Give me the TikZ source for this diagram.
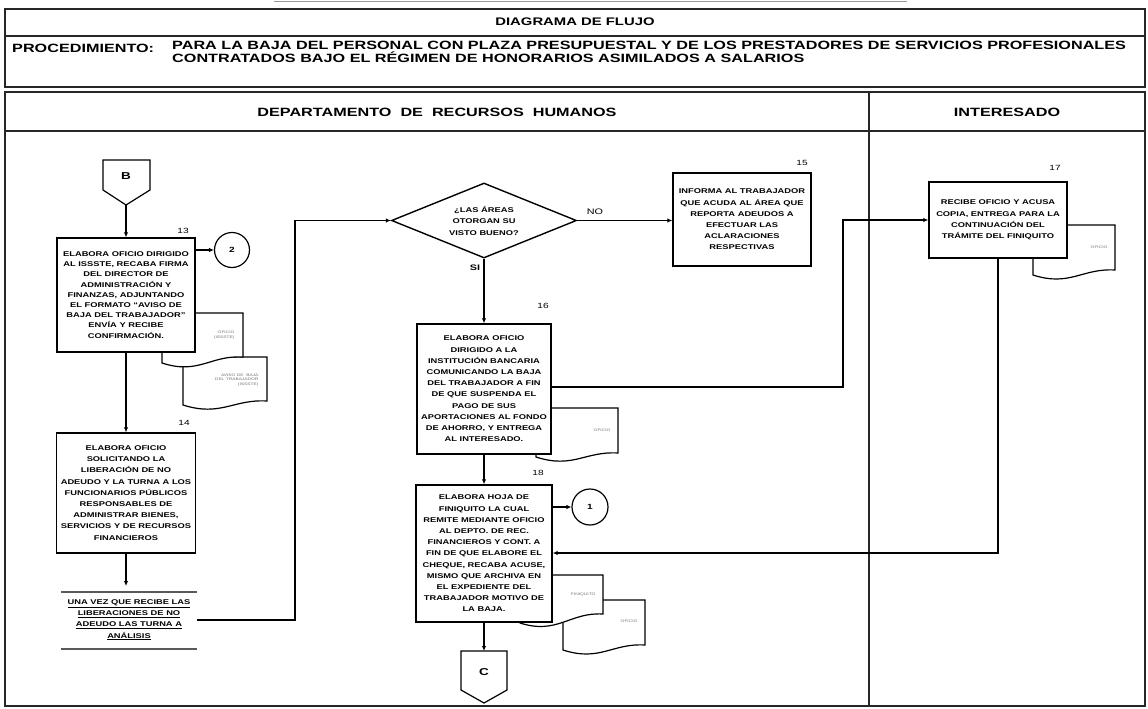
\documentclass[tikz,border=0pt]{standalone}
\usepackage{fontspec}
\newfontfamily\hf{Liberation Sans}[FakeStretch=1.35]
\usetikzlibrary{shapes.geometric,arrows.meta}
\newcommand\docshape[5]{\draw[docline] (#1,#2) -- (#3,#2) -- (#3,#4) .. controls ({#1+0.6*(#3-#1)},{#4-2}) and ({#1+0.45*(#3-#1)},{#5+12}) .. (#1,#5) -- cycle;}
\begin{document}
\begin{tikzpicture}[x=1pt,y=-1pt,
  frame/.style={line width=1.8pt, black!85},
  thin frame/.style={line width=1.1pt, black!85},
  proc/.style={draw, line width=1.4pt, fill=white, align=center, inner sep=0pt,
     font=\hf\bfseries\fontsize{6.9}{11.2}\selectfont},
  conn/.style={line width=1.2pt, -{Latex[length=5pt,width=4.5pt]}},
  docline/.style={line width=1.2pt, fill=white},
  doctext/.style={font=\hf\fontsize{3.6}{4.6}\selectfont, text=black!55, align=right},
  num/.style={font=\hf\fontsize{7.5}{8}\selectfont},
  circ/.style={draw, circle, line width=1.2pt, inner sep=0pt, font=\hf\bfseries\fontsize{7.5}{8}\selectfont},
  head/.style={font=\hf\bfseries\fontsize{11}{13}\selectfont},
  bighead/.style={font=\hf\bfseries\fontsize{12}{13}\selectfont},
  lbl/.style={font=\hf\fontsize{8}{9}\selectfont}
]
\useasboundingbox (0,0) rectangle (1148,709);
% top remnant
\draw[line width=1pt, black!40] (274,2) -- (907,2);
% header
\draw[frame] (5,9) rectangle (1145,87);
\draw[frame] (5,36) -- (1145,36);
\node[head] (title) at (575,22) {DIAGRAMA DE FLUJO};
\node[bighead, anchor=west, inner sep=0pt] (proclbl) at (12,48) {PROCEDIMIENTO:};
\node[bighead, anchor=north west, align=left, inner sep=0pt] (proctxt) at (172,41)
  {PARA LA BAJA DEL PERSONAL CON PLAZA PRESUPUESTAL Y DE LOS PRESTADORES DE SERVICIOS PROFESIONALES\\
   CONTRATADOS BAJO EL RÉGIMEN DE HONORARIOS ASIMILADOS A SALARIOS};
% lanes
\draw[frame] (5,92) rectangle (1145,706);
\draw[frame] (5,131) -- (1145,131);
\draw[thin frame] (869,92) -- (869,706);
\node[bighead] (lane1) at (437,112) {DEPARTAMENTO \ DE \ RECURSOS \ HUMANOS};
\node[bighead] (lane2) at (1007,112) {INTERESADO};

% documents (behind boxes)
\docshape{183}{357}{267}{401}{405}
\node[doctext, anchor=east] (d13b) at (262,380) {AVISO DE \ BAJA\\DEL TRABAJADOR\\(ISSSTE)};
\docshape{162}{313}{243}{357}{363}
\node[doctext, anchor=east] (d13a) at (238,335) {OFICIO\\(ISSSTE)};
\docshape{536}{408}{618}{453}{457}
\node[doctext, anchor=east] (d16) at (614,430) {OFICIO};
\docshape{1033}{225}{1115}{270}{275}
\node[doctext, anchor=east] (d17) at (1111,247) {OFICIO};
\docshape{563}{600}{645}{645}{650}
\node[doctext, anchor=east] (d18b) at (641,621) {OFICIO};
\docshape{520}{575}{603}{614}{623}
\node[doctext, anchor=east] (d18a) at (599,595) {FINIQUITO};

% off-page connector B
\draw[docline] (103,160) -- (150,160) -- (150,190) -- (126,205) -- (103,190) -- cycle;
\node[font=\hf\bfseries\fontsize{10}{10}\selectfont] (B) at (126,176) {B};
\coordinate (Bp) at (126,205);

% boxes
\node[proc, minimum width=138pt, minimum height=114pt, font=\hf\bfseries\fontsize{6.9}{10.2}\selectfont] (b13) at (126,295)
 {ELABORA OFICIO DIRIGIDO\\AL ISSSTE, RECABA FIRMA\\DEL DIRECTOR DE\\ADMINISTRACIÓN Y\\FINANZAS, ADJUNTANDO\\EL FORMATO “AVISO DE\\BAJA DEL TRABAJADOR”\\ENVÍA Y RECIBE\\CONFIRMACIÓN.};
\node[num] (n13) at (183,231) {13};
\node[circ, minimum size=35pt] (c2) at (232,250) {2};

\node[proc, minimum width=139pt, minimum height=120pt] (b14) at (126,493)
 {ELABORA OFICIO\\SOLICITANDO LA\\LIBERACIÓN DE NO\\ADEUDO Y LA TURNA A LOS\\FUNCIONARIOS PÚBLICOS\\RESPONSABLES DE\\ADMINISTRAR BIENES,\\SERVICIOS Y DE RECURSOS\\FINANCIEROS};
\node[num] (n14) at (184,423) {14};

% annotation
\draw[line width=1.8pt, black!65] (61,592) -- (197,592);
\draw[line width=1.8pt, black!65] (61,649) -- (197,649);
\node[align=center, font=\hf\bfseries\fontsize{6.9}{11.2}\selectfont] (ann) at (129,620)
 {\underline{UNA VEZ QUE RECIBE LAS}\\\underline{LIBERACIONES DE NO}\\\underline{ADEUDO LAS TURNA A}\\\underline{ANÁLISIS}};
\coordinate (annT) at (126,586);
\coordinate (annR) at (197,620);
\coordinate (j1) at (295,620);

% decision
\node[draw, diamond, line width=1.4pt, fill=white, aspect=2.47, minimum width=185pt, minimum height=75pt, inner sep=0pt, align=center,
  font=\hf\bfseries\fontsize{6.9}{11.5}\selectfont] (dia) at (484,220.5)
 {¿LAS ÁREAS\\OTORGAN SU\\VISTO BUENO?};
\node[lbl] (no) at (595,212) {NO};
\node[lbl, font=\hf\bfseries\fontsize{8}{9}\selectfont] (si) at (475,268) {SI};

\node[proc, minimum width=138pt, minimum height=93pt] (b15) at (742,219.5)
 {INFORMA AL TRABAJADOR\\QUE ACUDA AL ÁREA QUE\\REPORTA ADEUDOS A\\EFECTUAR LAS\\ACLARACIONES\\RESPECTIVAS};
\node[num] (n15) at (802,163) {15};

\node[proc, minimum width=134pt, minimum height=130pt] (b16) at (484,389)
 {ELABORA OFICIO\\DIRIGIDO A LA\\INSTITUCIÓN BANCARIA\\COMUNICANDO LA BAJA\\DEL TRABAJADOR A FIN\\DE QUE SUSPENDA EL\\PAGO DE SUS\\APORTACIONES AL FONDO\\DE AHORRO, Y ENTREGA\\AL INTERESADO.};
\node[num] (n16) at (543,306) {16};

\node[proc, minimum width=136pt, minimum height=137pt] (b18) at (484,553.5)
 {ELABORA HOJA DE\\FINIQUITO LA CUAL\\REMITE MEDIANTE OFICIO\\AL DEPTO. DE REC.\\FINANCIEROS Y CONT. A\\FIN DE QUE ELABORE EL\\CHEQUE, RECABA ACUSE,\\MISMO QUE ARCHIVA EN\\EL EXPEDIENTE DEL\\TRABAJADOR MOTIVO DE\\LA BAJA.};
\node[num] (n18) at (538,473) {18};
\node[circ, minimum size=36pt] (c1) at (590,507) {1};

\node[proc, minimum width=138pt, minimum height=76pt] (b17) at (998,220)
 {RECIBE OFICIO Y ACUSA\\COPIA, ENTREGA PARA LA\\CONTINUACIÓN DEL\\TRÁMITE DEL FINIQUITO};
\node[num] (n17) at (1055,168) {17};

% off-page connector C
\draw[docline] (461,651) -- (507,651) -- (507,690) -- (484,703) -- (461,690) -- cycle;
\node[font=\hf\bfseries\fontsize{10}{10}\selectfont] (C) at (484,672) {C};
\coordinate (Ct) at (484,651);

% connectors
\coordinate (j2) at (843,387);
\coordinate (j3) at (998,553);
\draw[conn] (Bp) -- (b13.north);
\draw[conn] (b13.east |- c2) -- (c2.west);
\draw[conn] (b13.south) -- (b14.north);
\draw[conn] (b14.south) -- (annT);
\draw[conn] (annR) -- (j1) |- (dia.west);
\draw[conn] (dia.east) -- (dia.east -| b15.west);
\draw[conn] (dia.south) -- (b16.north);
\draw[conn] (b16.south) -- (b18.north);
\draw[conn] (b16.east |- j2) -- (j2) |- (b17.west);
\draw[conn] (b17.south) -- (j3) -- (j3 -| b18.east);
\draw[conn] (b18.east |- c1) -- (c1.west);
\draw[conn] (b18.south) -- (Ct);
\end{tikzpicture}
\end{document}
